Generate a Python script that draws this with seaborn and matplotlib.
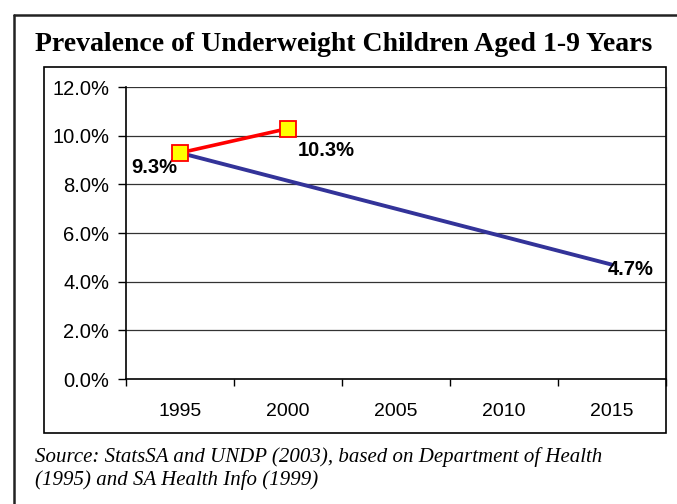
import numpy as np
import pandas as pd
import matplotlib.pyplot as plt
import matplotlib.lines as mlines
import matplotlib.patches as mpatches
import seaborn as sns

# data
years = [1995, 2000, 2005, 2010, 2015]
target_years = [1995, 2015]
target_vals = [9.3, 4.7]
actual_years = [1995, 2000]
actual_vals = [9.3, 10.3]
yticks = [0, 2, 4, 6, 8, 10, 12]

sns.set_style("ticks")
plt.rcParams['font.family'] = ['Liberation Sans', 'DejaVu Sans']
plt.rcParams['text.color'] = 'black'
plt.rcParams['xtick.color'] = 'black'
plt.rcParams['ytick.color'] = 'black'

fig = plt.figure(figsize=(6.77, 5.04), dpi=100)
ax = fig.add_axes([0.186, 0.248, 0.798, 0.579])

df_target = pd.DataFrame({'year': target_years, 'value': target_vals})
df_actual = pd.DataFrame({'year': actual_years, 'value': actual_vals})

sns.lineplot(data=df_target, x='year', y='value', ax=ax, color='#333399',
             linewidth=2.8, zorder=3)
sns.lineplot(data=df_actual, x='year', y='value', ax=ax, color='#ff0000',
             linewidth=2.6, marker='s', markersize=11.5, markerfacecolor='#ffff00',
             markeredgecolor='#ff0000', markeredgewidth=1.3, zorder=4)

ax.set_xlim(1992.5, 2017.5)
ax.set_ylim(0, 12)
ax.set_yticks(yticks)
ax.set_yticklabels([f"{v:.1f}%" for v in yticks], fontsize=14.5)
ax.set_xticks(years)
ax.set_xticklabels([str(y) for y in years], fontsize=14)
ax.set_xticks(np.arange(1992.5, 2018, 5), minor=True)
ax.tick_params(axis='x', which='major', length=0, pad=17)
ax.tick_params(axis='x', which='minor', length=5, width=1, color='black')
ax.tick_params(axis='y', length=6, width=1, color='black', pad=6)
ax.set_xlabel('')
ax.set_ylabel('')

for v in yticks[1:]:
    ax.axhline(v, color='#333333', linewidth=0.9, zorder=1)

ax.spines['left'].set_color('black')
ax.spines['bottom'].set_color('black')
ax.spines['left'].set_linewidth(1.2)
ax.spines['bottom'].set_linewidth(1.2)
ax.spines['top'].set_visible(False)
ax.spines['right'].set_color('#888888')
ax.spines['right'].set_linewidth(1.0)

lab = dict(fontsize=14.5, fontweight='bold', textcoords='offset pixels')
ax.annotate("9.3%", (actual_years[0], actual_vals[0]), xytext=(-26, -15),
            ha='center', va='center', **lab)
ax.annotate("10.3%", (actual_years[1], actual_vals[1]), xytext=(10, -22),
            ha='left', va='center', **lab)
ax.annotate("4.7%", (target_years[1], target_vals[1]), xytext=(-4, -5),
            ha='left', va='center', **lab)

# inner chart box
fig.patches.append(mpatches.Rectangle((0.065, 0.141), 0.919, 0.726,
                                      transform=fig.transFigure, fill=False,
                                      edgecolor='black', linewidth=1.2, zorder=0))
# outer frame
fig.lines.append(mlines.Line2D([0.0207, 1.0], [0.970, 0.970], transform=fig.transFigure,
                               color='#222222', linewidth=1.8))
fig.lines.append(mlines.Line2D([0.0207, 0.0207], [0.0, 0.970], transform=fig.transFigure,
                               color='#222222', linewidth=1.8))

fig.text(0.052, 0.899, "Prevalence of Underweight Children Aged 1-9 Years",
         family='Liberation Serif', fontsize=20, fontweight='bold', va='baseline')
fig.text(0.052, 0.113, "Source: StatsSA and UNDP (2003), based on Department of Health\n"
         "(1995) and SA Health Info (1999)",
         family='Liberation Serif', fontsize=15, style='italic', va='top',
         linespacing=1.2)

fig.savefig("out.png", dpi=100)
